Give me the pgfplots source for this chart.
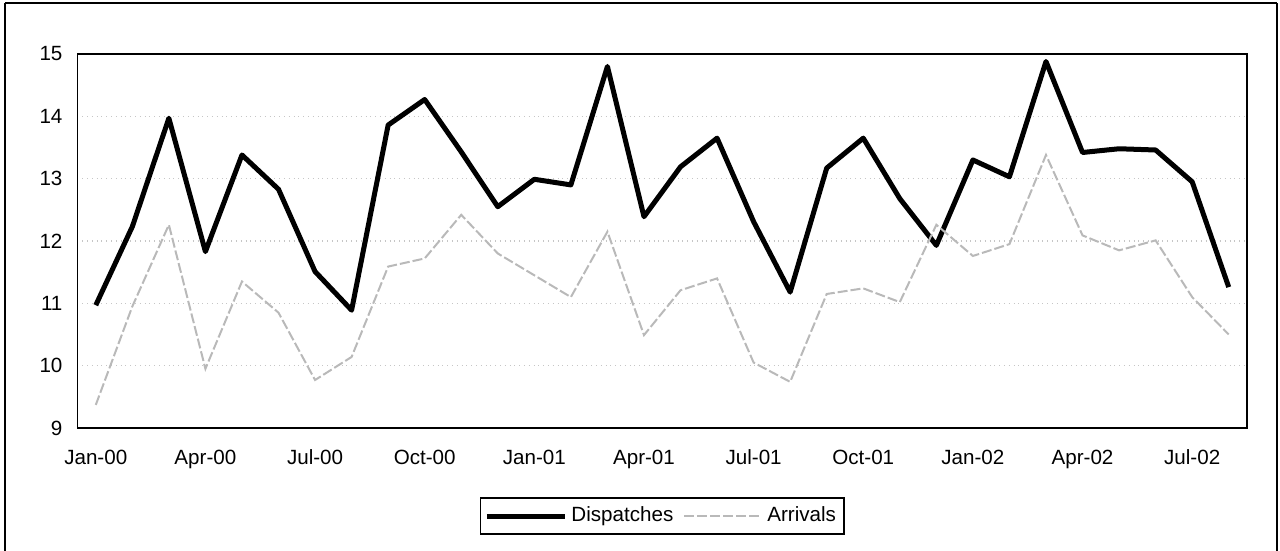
\documentclass[border=0pt]{standalone}
\usepackage{fontspec}
\setmainfont{Liberation Sans}
\usepackage{pgfplots}
\pgfplotsset{compat=1.18}
\begin{document}
\begin{tikzpicture}
\path[use as bounding box] (-38.75pt,-61.5pt) rectangle (601.25pt,214pt);
\draw[line width=1.2pt] (-36.25pt,212.5pt) -- (599.75pt,212.5pt);
\draw[line width=1.2pt] (-36.25pt,-61.5pt) -- (-36.25pt,212.5pt);
\draw[line width=1.2pt] (599.75pt,-61.5pt) -- (599.75pt,212.5pt);
\begin{axis}[
  anchor=south west,
  scale only axis, width=584.75pt, height=187pt,
  xmin=-0.5, xmax=31.5, ymin=9, ymax=15,
  ytick={9,10,11,12,13,14,15},
  xtick={0,3,6,9,12,15,18,21,24,27,30},
  xticklabels={Jan-00,Apr-00,Jul-00,Oct-00,Jan-01,Apr-01,Jul-01,Oct-01,Jan-02,Apr-02,Jul-02},
  major tick length=0pt,
  ymajorgrids,
  grid style={gray!45, dotted, line width=0.6pt},
  axis line style={line width=0.8pt},
  tick label style={font=\fontsize{10.3}{12}\selectfont},
  xticklabel style={yshift=-7pt, text height=7.5pt, text depth=2pt},
  yticklabel style={xshift=-4pt},
  /pgf/number format/assume math mode=true,
  legend columns=2,
  legend style={at={(0.5,-0.2353)}, anchor=center, draw=black, line width=0.6pt,
    font=\fontsize{10.3}{12}\selectfont, inner xsep=2pt, inner ysep=2.5pt,
    /tikz/every even column/.append style={column sep=3pt}},
  legend image code/.code={\draw[#1] (0pt,0pt) -- (39pt,0pt);},
]
\addplot[black, line width=2.5pt, line join=round] coordinates {
(0,10.97) (1,12.23) (2,13.97) (3,11.83) (4,13.38) (5,12.83) (6,11.51) (7,10.89)
(8,13.86) (9,14.27) (10,13.43) (11,12.55) (12,12.99) (13,12.90) (14,14.80) (15,12.39)
(16,13.19) (17,13.65) (18,12.31) (19,11.18) (20,13.17) (21,13.65) (22,12.68) (23,11.93)
(24,13.30) (25,13.03) (26,14.88) (27,13.42) (28,13.48) (29,13.46) (30,12.95) (31,11.26)
};
\addlegendentry{Dispatches}
\addplot[gray!55, line width=1pt, dash pattern=on 5pt off 1.5pt] coordinates {
(0,9.37) (1,10.95) (2,12.26) (3,9.95) (4,11.35) (5,10.85) (6,9.77) (7,10.14)
(8,11.59) (9,11.72) (10,12.42) (11,11.80) (12,11.45) (13,11.10) (14,12.15) (15,10.49)
(16,11.21) (17,11.40) (18,10.05) (19,9.74) (20,11.15) (21,11.24) (22,11.02) (23,12.26)
(24,11.76) (25,11.95) (26,13.38) (27,12.09) (28,11.85) (29,12.01) (30,11.10) (31,10.50)
};
\addlegendentry{Arrivals}
\end{axis}
\end{tikzpicture}
\end{document}
